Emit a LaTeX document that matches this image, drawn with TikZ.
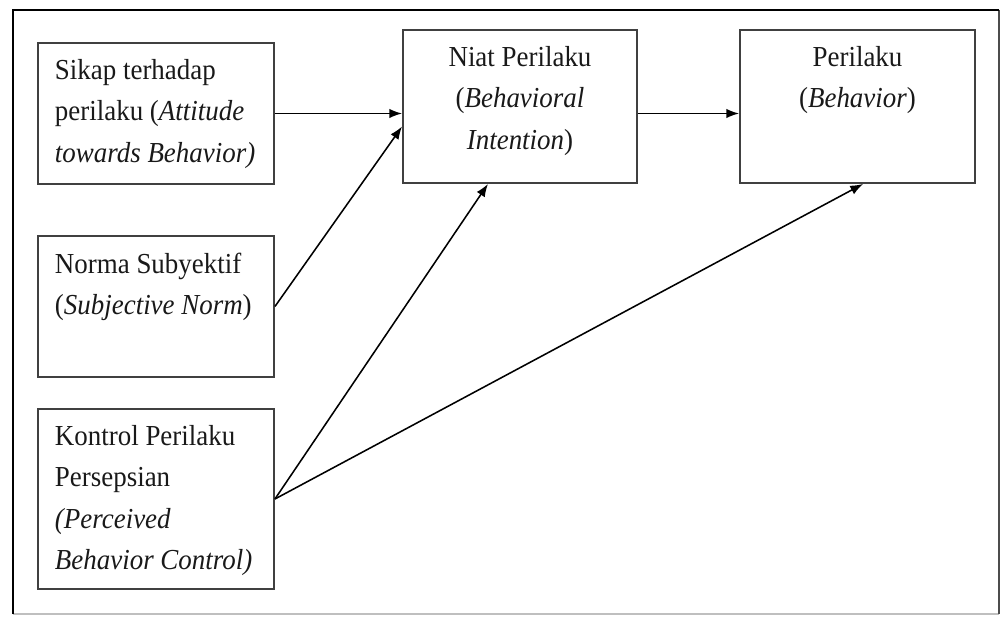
\documentclass[tikz,border=0pt]{standalone}
\usepackage{fontspec}
\setmainfont{Liberation Serif}[FakeStretch=0.93]
\usepackage{tikz}
\usetikzlibrary{arrows.meta}
\newcommand{\boxtxt}[3]{\parbox[c][#1][t]{#2}{#3}}

\begin{document}
\begin{tikzpicture}[x=0.025cm,y=-0.025cm,>={Latex[length=0.32cm,width=0.24cm]},auto]
		\tikzstyle{every node}=[draw=black!75, line width=1.3pt, inner xsep=0.425cm, inner ysep=0.42cm, text=black!90, font=\fontsize{20.6pt}{29.2pt}\selectfont]
		\useasboundingbox (0,0) rectangle (1002,617);

		% frame
		\draw[gray!50, line width=1pt] (999,614) -- (13,614);
		\draw[black!70, line width=1.3pt] (999,10) -- (999,614);
		\draw[line width=1.8pt] (13,614) -- (13,10) -- (999,10);

		\node (ATB) at (156, 113.5) {\boxtxt{2.685cm}{5.05cm}{\raggedright Sikap terhadap\\ perilaku (\textit{Attitude}\\ \textit{towards Behavior)}}};
		\node (SN) at (156, 306.5) {\boxtxt{2.685cm}{5.05cm}{\raggedright Norma Subyektif\\ (\textit{Subjective Norm})}};
		\node (PBC) at (156, 499) {\boxtxt{3.66cm}{5.05cm}{\raggedright Kontrol Perilaku\\ Persepsian\\ \textit{(Perceived}\\ \textit{Behavior Control)}}};
		\node (BI) at (520, 106.5) {\boxtxt{2.985cm}{5.0cm}{\centering Niat Perilaku\\ (\textit{Behavioral}\\ \textit{Intention})}};
		\node (B) at (857.5, 106.5) {\boxtxt{2.985cm}{5.025cm}{\centering Perilaku\\ (\textit{Behavior})}};

		\path[->, line width=1.1pt]
			(ATB.east) edge (ATB.east -| BI.west)
			(BI.east |- ATB.east) edge (B.west |- ATB.east)
			(SN.east) edge ([yshift=-0.5cm]BI.west)
			(PBC.east) edge ([xshift=-0.8cm]BI.south)
			(PBC.east) edge ([xshift=0.14cm]B.south);
	\end{tikzpicture}
\end{document}
